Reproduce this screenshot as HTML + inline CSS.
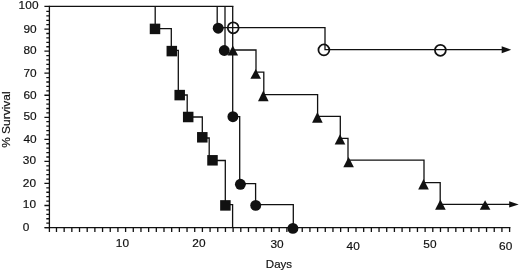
<!DOCTYPE html>
<html><head><meta charset="utf-8"><title>Survival</title>
<style>html,body{margin:0;padding:0;background:#fff}svg{display:block}.t{font-family:"Liberation Sans",Arial,Helvetica,sans-serif}</style></head>
<body><svg width="520" height="271" viewBox="0 0 520 271">
<rect width="520" height="271" fill="#fff"/>
<g stroke="#111" stroke-width="1.3" fill="none" stroke-linecap="butt">
<path d="M49.4 5.8V228.05"/>
<path d="M44.8 227.55H510.4"/>
<path d="M44.4 227.55H49.4M46.3 223.14H49.4M46.3 218.73H49.4M46.3 214.32H49.4M46.3 209.91H49.4M44.4 205.50H49.4M46.3 201.09H49.4M46.3 196.68H49.4M46.3 192.27H49.4M46.3 187.86H49.4M44.4 183.45H49.4M46.3 179.04H49.4M46.3 174.63H49.4M46.3 170.22H49.4M46.3 165.81H49.4M44.4 161.40H49.4M46.3 156.99H49.4M46.3 152.58H49.4M46.3 148.17H49.4M46.3 143.76H49.4M44.4 139.35H49.4M46.3 134.94H49.4M46.3 130.53H49.4M46.3 126.12H49.4M46.3 121.71H49.4M44.4 117.30H49.4M46.3 112.89H49.4M46.3 108.48H49.4M46.3 104.07H49.4M46.3 99.66H49.4M44.4 95.25H49.4M46.3 90.84H49.4M46.3 86.43H49.4M46.3 82.02H49.4M46.3 77.61H49.4M44.4 73.20H49.4M46.3 68.79H49.4M46.3 64.38H49.4M46.3 59.97H49.4M46.3 55.56H49.4M44.4 51.15H49.4M46.3 46.74H49.4M46.3 42.33H49.4M46.3 37.92H49.4M46.3 33.51H49.4M44.4 29.10H49.4M46.3 24.69H49.4M46.3 20.28H49.4M46.3 15.87H49.4M46.3 11.46H49.4M44.4 6.4H49.4"/>
<path d="M49.40 227.55V232.05M56.48 227.55V232.05M64.16 227.55V232.05M71.84 227.55V232.05M79.52 227.55V232.05M87.20 227.55V232.05M94.88 227.55V232.05M102.56 227.55V232.05M110.24 227.55V232.05M117.92 227.55V232.05M125.60 227.55V232.05M133.28 227.55V232.05M140.96 227.55V232.05M148.64 227.55V232.05M156.32 227.55V232.05M164.00 227.55V232.05M171.68 227.55V232.05M179.36 227.55V232.05M187.04 227.55V232.05M194.72 227.55V232.05M202.40 227.55V232.05M210.08 227.55V232.05M217.76 227.55V232.05M225.44 227.55V232.05M233.12 227.55V232.05M240.80 227.55V232.05M248.48 227.55V232.05M256.16 227.55V232.05M263.84 227.55V232.05M271.52 227.55V232.05M279.20 227.55V232.05M286.88 227.55V232.05M294.56 227.55V232.05M302.24 227.55V232.05M309.92 227.55V232.05M317.60 227.55V232.05M325.28 227.55V232.05M332.96 227.55V232.05M340.64 227.55V232.05M348.32 227.55V232.05M356.00 227.55V232.05M363.68 227.55V232.05M371.36 227.55V232.05M379.04 227.55V232.05M386.72 227.55V232.05M394.40 227.55V232.05M402.08 227.55V232.05M409.76 227.55V232.05M417.44 227.55V232.05M425.12 227.55V232.05M432.80 227.55V232.05M440.48 227.55V232.05M448.16 227.55V232.05M455.84 227.55V232.05M463.52 227.55V232.05M471.20 227.55V232.05M478.88 227.55V232.05M486.56 227.55V232.05M494.24 227.55V232.05M501.92 227.55V232.05M509.60 227.55V232.05"/>
<path d="M49.4 6.4H233.4"/>
<path d="M155.2 6.3V28.6H171.3V50.4H178.3V95H187.2V117H202.3V138H209.2V160.5H225.3V204.6H232.6V227.4"/>
<path d="M217.2 6.3V28"/>
<path d="M225.0 6.3V50"/>
<path d="M232.7 6.3V116.7H239.7V183.6H255.6V204.6H293.3V227.4"/>
<path d="M218 27.7H325V49.7H502"/>
<path d="M233 50H256V72.2H263.8V94.7H317.6V116.4H340.3V138.3H348V160.2H424V182.6H440.2V204.4H510"/>
</g>
<g fill="#111" stroke="none">
<rect x="149.75" y="23.65" width="10.5" height="10.5"/>
<rect x="166.55" y="45.85" width="10.5" height="10.5"/>
<rect x="174.45" y="89.85" width="10.5" height="10.5"/>
<rect x="182.95" y="111.75" width="10.5" height="10.5"/>
<rect x="197.05" y="132.05" width="10.5" height="10.5"/>
<rect x="207.25" y="155.05" width="10.5" height="10.5"/>
<rect x="220.15" y="200.15" width="10.5" height="10.5"/>
<circle cx="218.2" cy="28.2" r="5.45"/>
<circle cx="224.3" cy="50.5" r="5.45"/>
<circle cx="232.9" cy="116.7" r="5.45"/>
<circle cx="240.4" cy="184.3" r="5.45"/>
<circle cx="255.7" cy="205.4" r="5.45"/>
<circle cx="292.9" cy="228.4" r="5.45"/>
<path d="M232.8 45.4L238.1 55.5H227.5Z"/>
<path d="M255.7 68.9L261.0 78.8H250.4Z"/>
<path d="M263.3 90.5L268.6 101.3H258.0Z"/>
<path d="M317.4 112.1L322.7 122.7H312.1Z"/>
<path d="M340 134.2L345.3 144.6H334.7Z"/>
<path d="M348.6 157.1L353.9 167.2H343.3Z"/>
<path d="M423.5 178.9L428.8 189.4H418.2Z"/>
<path d="M440.4 199.6L445.7 209.7H435.1Z"/>
<path d="M485.1 200.2L490.4 209.7H479.8Z"/>
<path d="M511.2 49.7L501.7 46.2V53.2Z"/>
<path d="M518.7 204.4L509.2 201.2V207.6Z"/>
</g>
<g fill="none" stroke="#111" stroke-width="1.75">
<circle cx="233.2" cy="27.8" r="5.45"/>
<circle cx="323.9" cy="49.9" r="5.45"/>
<circle cx="440.4" cy="50.3" r="5.45"/>
</g>
<g class="t" fill="#111" stroke="#111" stroke-width="0.18" font-size="11.2">
<text transform="translate(18.6 9.4) scale(1.06 1)" text-anchor="start" letter-spacing="0.1">100</text>
<text transform="translate(23.4 32.5) scale(1.06 1)" text-anchor="start" letter-spacing="0.1">90</text>
<text transform="translate(23.4 54.3) scale(1.06 1)" text-anchor="start" letter-spacing="0.1">80</text>
<text transform="translate(23.4 77.1) scale(1.06 1)" text-anchor="start" letter-spacing="0.1">70</text>
<text transform="translate(23.4 98.6) scale(1.06 1)" text-anchor="start" letter-spacing="0.1">60</text>
<text transform="translate(23.4 120.4) scale(1.06 1)" text-anchor="start" letter-spacing="0.1">50</text>
<text transform="translate(23.4 142.6) scale(1.06 1)" text-anchor="start" letter-spacing="0.1">40</text>
<text transform="translate(22.8 164.4) scale(1.06 1)" text-anchor="start" letter-spacing="0.1">30</text>
<text transform="translate(22.8 186.9) scale(1.06 1)" text-anchor="start" letter-spacing="0.1">20</text>
<text transform="translate(22.8 208.4) scale(1.06 1)" text-anchor="start" letter-spacing="0.1">10</text>
<text transform="translate(22.7 231.0) scale(1.06 1)" text-anchor="start" letter-spacing="0.1">0</text>
<text transform="translate(122.5 247) scale(1.06 1)" text-anchor="middle" letter-spacing="0.1">10</text>
<text transform="translate(199 247) scale(1.06 1)" text-anchor="middle" letter-spacing="0.1">20</text>
<text transform="translate(277.1 247.5) scale(1.06 1)" text-anchor="middle" letter-spacing="0.1">30</text>
<text transform="translate(353.2 250) scale(1.06 1)" text-anchor="middle" letter-spacing="0.1">40</text>
<text transform="translate(430 248) scale(1.06 1)" text-anchor="middle" letter-spacing="0.1">50</text>
<text transform="translate(505.8 249.5) scale(1.06 1)" text-anchor="middle" letter-spacing="0.1">60</text>
<text transform="translate(279 267.8) scale(1.03 1)" text-anchor="middle">Days</text>
<text transform="translate(10.3 119.6) rotate(-90) scale(1.07 1.03)" text-anchor="middle">% Survival</text>
</g>
</svg></body></html>
